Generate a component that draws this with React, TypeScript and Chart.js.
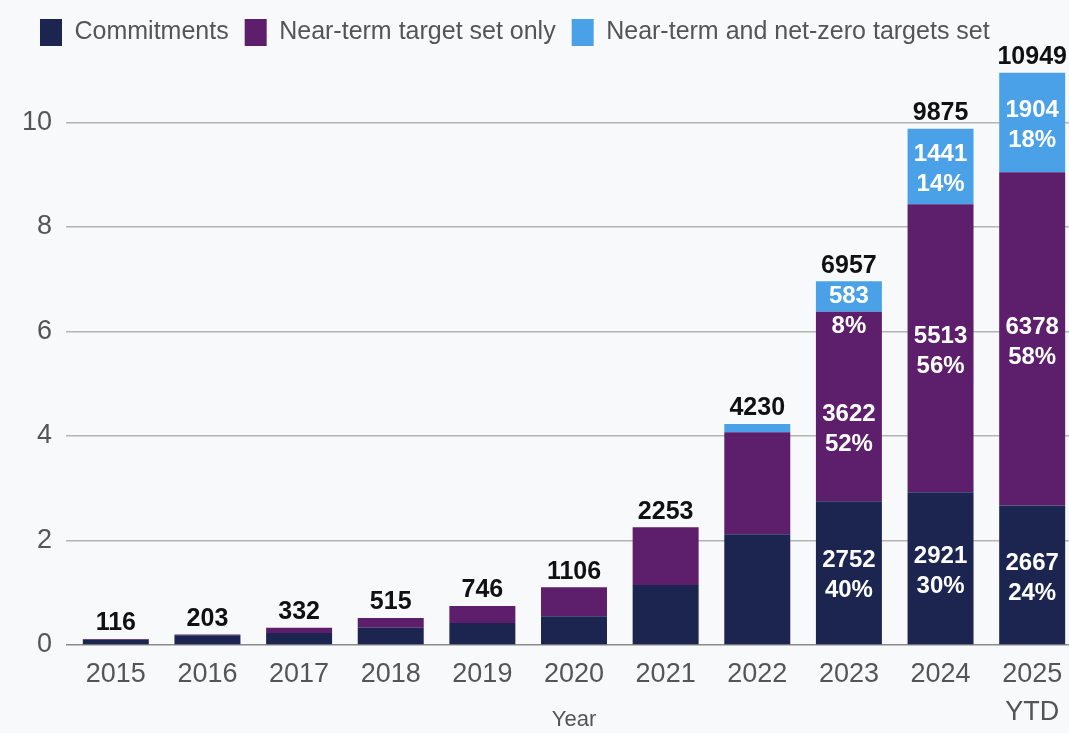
import React, { useEffect, useRef } from "react";
import { Chart, registerables } from "chart.js";

Chart.register(...registerables);

const categories: (string | string[])[] = ["2015", "2016", "2017", "2018", "2019", "2020", "2021", "2022", "2023", "2024", ["2025", "YTD"]];
const commitments = [100, 185, 230, 330, 420, 550, 1150, 2120, 2752, 2921, 2667];
const nearTermOnly = [16, 18, 102, 185, 326, 556, 1103, 1950, 3622, 5513, 6378];
const netZeroSet = [0, 0, 0, 0, 0, 0, 0, 160, 583, 1441, 1904];
const pctCommitments = ["", "", "", "", "", "", "", "", "40%", "30%", "24%"];
const pctNearTerm = ["", "", "", "", "", "", "", "", "52%", "56%", "58%"];
const pctNetZero = ["", "", "", "", "", "", "", "", "8%", "14%", "18%"];
const yTicks = [0, 2000, 4000, 6000, 8000, 10000];
const seriesNames = ["Commitments", "Near-term target set only", "Near-term and net-zero targets set"];

const FONT = "'Liberation Sans', Arial, Helvetica, sans-serif";
const COLORS = ["#1b2550", "#5d1f6c", "#4ba1e8"];

const barLabels = {
  id: "barLabels",
  afterDatasetsDraw(chart: any) {
    const ctx = chart.ctx;
    const metas = [0, 1, 2].map((d) => chart.getDatasetMeta(d));
    const values = [commitments, nearTermOnly, netZeroSet];
    const pcts = [pctCommitments, pctNearTerm, pctNetZero];
    ctx.save();
    categories.forEach((_, i) => {
      const total = commitments[i] + nearTermOnly[i] + netZeroSet[i];
      const els = metas.map((m) => m.data[i]);
      const x = els[0].x;
      const topY = Math.min(...els.map((e: any) => e.y));
      ctx.fillStyle = "#111";
      ctx.font = `bold 25px ${FONT}`;
      ctx.textAlign = "center";
      ctx.textBaseline = "bottom";
      ctx.fillText(String(total), x, topY - 3);

      let reserved: number | null = null;
      for (let d = 2; d >= 0; d--) {
        const pct = pcts[d][i];
        if (!pct) continue;
        const el: any = els[d];
        const top = reserved !== null ? Math.max(el.y, reserved) : el.y;
        const bottom = el.base;
        const h = bottom - el.y;
        ctx.fillStyle = "#ffffff";
        ctx.font = `bold 24px ${FONT}`;
        ctx.textBaseline = "middle";
        if (h >= 60) {
          const c = (top + bottom) / 2 + 3;
          ctx.fillText(String(values[d][i]), x, c - 15);
          ctx.fillText(pct, x, c + 15);
          reserved = null;
        } else {
          ctx.fillText(String(values[d][i]), x, (el.y + bottom) / 2);
          ctx.fillText(pct, x, bottom + 15);
          reserved = bottom + 40;
        }
      }
    });
    ctx.restore();
  },
};

const bgPlugin = {
  id: "bg",
  beforeDraw(chart: any) {
    const ctx = chart.ctx;
    ctx.save();
    ctx.fillStyle = "#f8f9fb";
    ctx.fillRect(0, 0, chart.width, chart.height);
    ctx.restore();
  },
};

export default function App() {
  const ref = useRef<HTMLCanvasElement | null>(null);
  useEffect(() => {
    if (!ref.current) return;
    const chart = new Chart(ref.current, {
      type: "bar",
      data: {
        labels: categories,
        datasets: [commitments, nearTermOnly, netZeroSet].map((vals, k) => ({
          label: seriesNames[k],
          data: vals,
          backgroundColor: COLORS[k],
          borderWidth: 0,
          barPercentage: 0.72,
          categoryPercentage: 1,
        })),
      },
      options: {
        responsive: false,
        animation: false,
        devicePixelRatio: 1,
        layout: { padding: { left: 24, right: 2, top: 3, bottom: 0 } },
        plugins: {
          legend: {
            position: "top",
            align: "start",
            labels: {
              boxWidth: 22,
              boxHeight: 27,
              padding: 16,
              color: "#555",
              font: { family: FONT, size: 25 },
            },
          },
          subtitle: {
            display: true,
            text: "",
            position: "top",
            weight: 500,
            font: { size: 1, lineHeight: 1 },
            padding: { top: 0, bottom: 13 },
          },
          tooltip: { enabled: false },
        },
        scales: {
          x: {
            stacked: true,
            grid: { display: false },
            border: { display: false },
            ticks: {
              color: "#555",
              font: { family: FONT, size: 27, lineHeight: 1.4 },
              padding: 3,
              maxRotation: 0,
              autoSkip: false,
            },
            title: {
              display: true,
              text: "Year",
              color: "#555",
              font: { family: FONT, size: 22 },
              padding: { top: 0, bottom: 0 },
            },
            afterFit: (axis: any) => {
              axis.height = 88;
            },
          },
          y: {
            stacked: true,
            min: 0,
            max: 11000,
            border: { display: false },
            grid: {
              color: (c: any) => (c.tick && c.tick.value === 0 ? "#8a8a8a" : "#b4b4b4"),
              lineWidth: 1.5,
              drawTicks: true,
              tickLength: 4,
            },
            ticks: {
              stepSize: 2000,
              color: "#555",
              padding: 14,
              font: { family: FONT, size: 27 },
              callback: (v: any) => String(Number(v) / 1000),
            },
            afterBuildTicks: (axis: any) => {
              axis.ticks = yTicks.map((v) => ({ value: v }));
            },
            afterFit: (axis: any) => {
              axis.width = 46;
            },
          },
        },
      },
      plugins: [bgPlugin, barLabels],
    });
    return () => chart.destroy();
  }, []);
  return (
    <div style={{ position: "fixed", left: 0, top: 0, width: 1069, height: 733, overflow: "hidden", background: "#f8f9fb" }}>
      <canvas ref={ref} width={1080} height={733} style={{ display: "block" }} />
    </div>
  );
}
